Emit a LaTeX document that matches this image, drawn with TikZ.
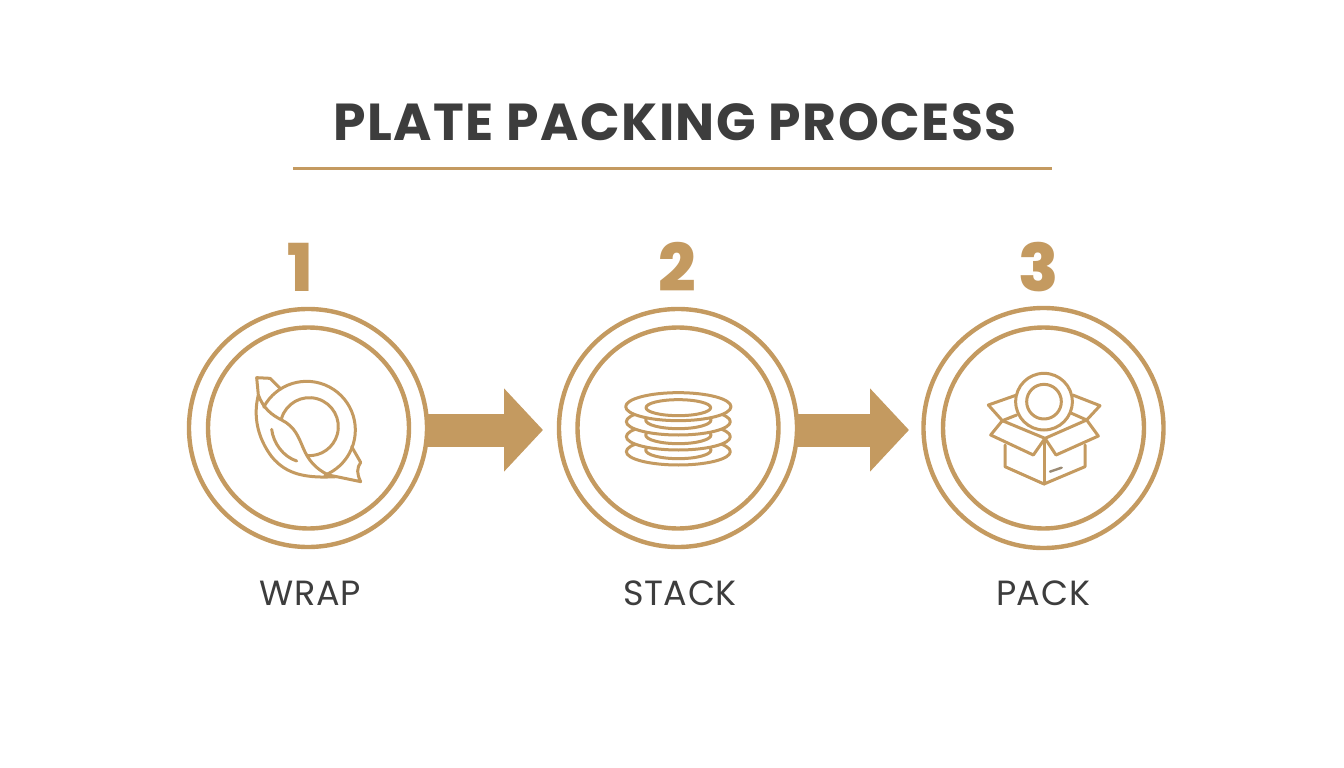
\documentclass[tikz,border=0pt]{standalone}
\usepackage{fontspec}
\setmainfont{Poppins}
\newfontfamily\titlefont[LetterSpace=2.9]{Poppins Bold}
\newfontfamily\labelfont[LetterSpace=2]{Poppins}
\newfontfamily\numfont{Poppins ExtraBold}
\usetikzlibrary{arrows.meta}
\definecolor{gold}{HTML}{C49A60}
\definecolor{ink}{HTML}{3D3D3D}
\tikzset{
  outerring/.style={circle,draw=gold,line width=4.4pt,inner sep=0pt,outer sep=0pt,minimum size=238pt},
  innerring/.style={circle,draw=gold,line width=4.4pt,inner sep=0pt,outer sep=0pt,minimum size=201pt},
  flow/.style={draw=gold,line width=33pt,-{Triangle[length=39pt,width=81pt,fill=gold]}},
  numeral/.style={text=gold,font=\numfont\fontsize{66}{66}\selectfont,inner sep=0pt},
  steplabel/.style={text=ink,font=\labelfont\fontsize{35}{35}\selectfont,inner sep=0pt},
  icon/.style={draw=gold,line width=3pt,line join=round,line cap=round},
  iconfill/.style={icon,fill=white}
}
\begin{document}
\begin{tikzpicture}[x=1pt,y=-1pt]
\useasboundingbox[fill=white] (0,0) rectangle (1344,768);
\node[text=ink,font=\titlefont\fontsize{52}{52}\selectfont,inner sep=0pt] (title) at (675,122) {PLATE PACKING PROCESS};
\coordinate (ruleL) at (293,168);
\coordinate (ruleR) at (1052,168);
\draw[gold,line width=3pt] (ruleL) -- (ruleR);

\node[numeral] (n1) at (300,267) {1};
\node[numeral] (n2) at (677,267) {2};
\node[numeral] (n3) at (1039,267) {3};

\node[outerring] (o1) at (308,428) {};
\node[innerring] (i1) at (308.5,428) {};
\node[outerring] (o2) at (678,428) {};
\node[innerring] (i2) at (678,428) {};
\node[outerring,minimum size=240pt] (o3) at (1043.5,428) {};
\node[innerring] (i3) at (1043.5,428) {};

\coordinate (t1) at (543,430);
\coordinate (t2) at (909,430);
\draw[flow] (o1.east |- t1) -- (t1);
\draw[flow] (o2.east |- t2) -- (t2);

\node[steplabel] (l1) at (310,593) {WRAP};
\node[steplabel] (l2) at (680,593) {STACK};
\node[steplabel] (l3) at (1043,593) {PACK};

% wrap icon
\begin{scope}[shift={(240,365)},scale=1/3]
  \draw[icon] (200,195) ++(208:146) arc[start angle=208,end angle=428,radius=146];
  \draw[icon] (208,185) ++(196:87) arc[start angle=196,end angle=453,radius=87];
  \draw[icon] (122,72) -- (90,40) -- (50,38) -- (55,90)
     .. controls (40,150) and (50,215) .. (95,275) .. controls (140,330) and (200,340) .. (290,335)
     -- (362,350) .. controls (350,325) and (350,310) .. (362,292) -- (335,245);
  \draw[icon] (55,90) .. controls (70,130) and (95,150) .. (125,165) .. controls (165,185) and (175,215) .. (190,250) .. controls (205,285) and (225,310) .. (265,330) -- (290,335);
  \draw[icon] (95,193) .. controls (100,235) and (130,275) .. (170,288);
\end{scope}

% stack icon
\begin{scope}[shift={(600,370)},scale=1/3]
  \foreach \yy in {245,200,155} {
    \draw[iconfill] (235,\yy) ellipse[x radius=156,y radius=40];
    \draw[iconfill] (235,\yy-5) ellipse[x radius=98,y radius=26];
  }
  \draw[iconfill] (235,110) ellipse[x radius=158,y radius=42];
  \draw[iconfill] (235,113) ellipse[x radius=97,y radius=24];
\end{scope}

% pack icon
\begin{scope}[shift={(970,360)},scale=1/3]
  \draw[icon] (140,105) -- (55,135) -- (97,182) -- (140,165);
  \draw[icon] (308,105) -- (390,137) -- (350,180) -- (305,160);
  \draw[iconfill] (222,125) circle[radius=85];
  \draw[icon] (222,125) circle[radius=52];
  \draw[icon] (97,182) -- (225,235) -- (350,180);
  \draw[icon] (97,182) -- (62,225) -- (190,285) -- (225,235) -- (258,285) -- (385,228) -- (350,180);
  \draw[icon] (105,255) -- (105,320) -- (222,372) -- (345,320) -- (345,255);
  \draw[icon] (222,235) -- (222,372);
  \draw[icon,line width=2.4pt,gray!60!gold] (240,335) -- (275,323);
\end{scope}
\end{tikzpicture}
\end{document}
